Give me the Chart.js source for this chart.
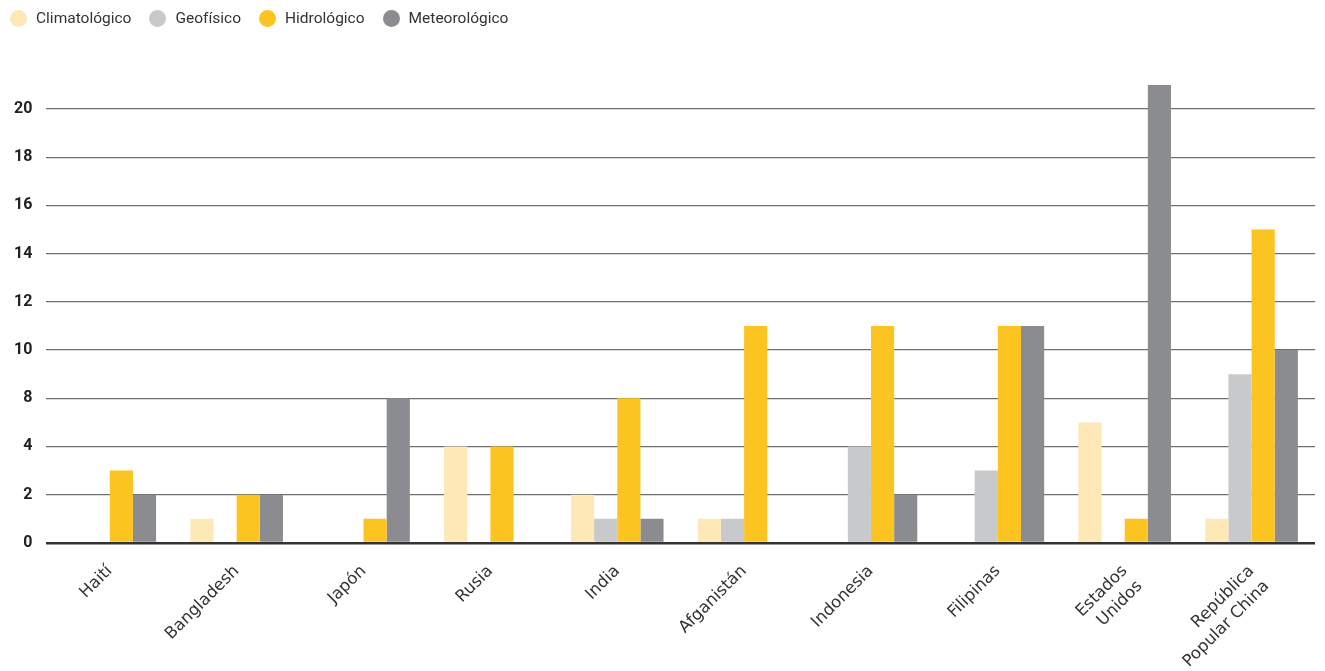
<!DOCTYPE html>
<html lang="es">
<head>
    <meta charset="UTF-8">
    <title>Desastres por tipo y país</title>
    <script src="https://cdn.jsdelivr.net/npm/chart.js"></script>
    <style>
        html, body {
            margin: 0;
            padding: 0;
            background: #fff;
        }
        .chart-container {
            position: relative;
            width: 1325px;
            height: 671px;
        }
        .legend {
            position: absolute;
            left: 10px;
            top: 9px;
            display: flex;
            align-items: center;
            font-family: Roboto, sans-serif;
            font-size: 15.5px;
            color: #333;
            z-index: 2;
        }
        .legend-item {
            display: flex;
            align-items: center;
            margin-right: 18px;
        }
        .legend-dot {
            width: 17px;
            height: 17px;
            border-radius: 50%;
            margin-right: 9px;
        }
    </style>
</head>
<body>
    <div class="chart-container">
        <div class="legend" id="legend"></div>
        <canvas id="myChart"></canvas>
    </div>

    <script>
        // Datos (en unidades del eje, una línea de rejilla cada 2)
        const paises = ['Haití', 'Bangladesh', 'Japón', 'Rusia', 'India', 'Afganistán',
            'Indonesia', 'Filipinas', ['Estados', 'Unidos'], ['República', 'Popular China']];
        const climatologico = [0, 1, 0, 4, 2, 1, 0, 0, 5, 1];
        const geofisico     = [0, 0, 0, 0, 1, 1, 4, 3, 0, 7];
        const hidrologico   = [3, 2, 1, 4, 6, 9, 9, 9, 1, 13];
        const meteorologico = [2, 2, 6, 0, 1, 0, 2, 9, 19, 8];

        // Marcas del eje y sus rótulos tal como aparecen
        const tickValues = [0, 2, 4, 6, 8, 10, 12, 14, 16, 18];
        const tickLabels = ['0', '2', '4', '8', '10', '12', '14', '16', '18', '20'];

        const colores = ['#fde8b6', '#c8c9ca', '#fcc421', '#8b8c90'];

        const config = {
            type: 'bar',
            data: {
                labels: paises,
                datasets: [
                    { label: 'Climatológico', data: climatologico, backgroundColor: colores[0] },
                    { label: 'Geofísico', data: geofisico, backgroundColor: colores[1] },
                    { label: 'Hidrológico', data: hidrologico, backgroundColor: colores[2] },
                    { label: 'Meteorológico', data: meteorologico, backgroundColor: colores[3] }
                ]
            },
            options: {
                responsive: true,
                maintainAspectRatio: false,
                animation: false,
                datasets: {
                    bar: {
                        categoryPercentage: 0.73,
                        barPercentage: 1.0
                    }
                },
                layout: {
                    padding: { left: 0, right: 10, top: 85, bottom: -11 }
                },
                scales: {
                    x: {
                        grid: { display: false },
                        border: { display: false },
                        ticks: {
                            color: '#333',
                            font: { family: "'DejaVu Sans'", size: 16.5, lineHeight: 1.3 },
                            maxRotation: 45,
                            minRotation: 45,
                            padding: 10
                        }
                    },
                    y: {
                        min: 0,
                        max: 19,
                        afterBuildTicks: function(scale) {
                            scale.ticks = tickValues.map(v => ({ value: v }));
                        },
                        grid: {
                            drawTicks: false,
                            color: ctx => ctx.tick && ctx.tick.value === 0 ? '#333' : '#6f6f6f',
                            lineWidth: ctx => ctx.tick && ctx.tick.value === 0 ? 2.5 : 1.3
                        },
                        border: { display: false },
                        ticks: {
                            color: '#222',
                            padding: 14,
                            font: { family: 'Roboto', size: 16, weight: 'bold' },
                            callback: function(value) {
                                const i = tickValues.indexOf(value);
                                return i >= 0 ? tickLabels[i] : '';
                            }
                        }
                    }
                },
                plugins: {
                    legend: { display: false },
                    tooltip: { enabled: false }
                }
            }
        };

        const ctx = document.getElementById('myChart').getContext('2d');
        const myChart = new Chart(ctx, config);

        // Leyenda en HTML
        const legend = document.getElementById('legend');
        myChart.data.datasets.forEach(function(ds) {
            const item = document.createElement('div');
            item.className = 'legend-item';
            const dot = document.createElement('span');
            dot.className = 'legend-dot';
            dot.style.backgroundColor = ds.backgroundColor;
            const text = document.createElement('span');
            text.textContent = ds.label;
            item.appendChild(dot);
            item.appendChild(text);
            legend.appendChild(item);
        });
    </script>
</body>
</html>
